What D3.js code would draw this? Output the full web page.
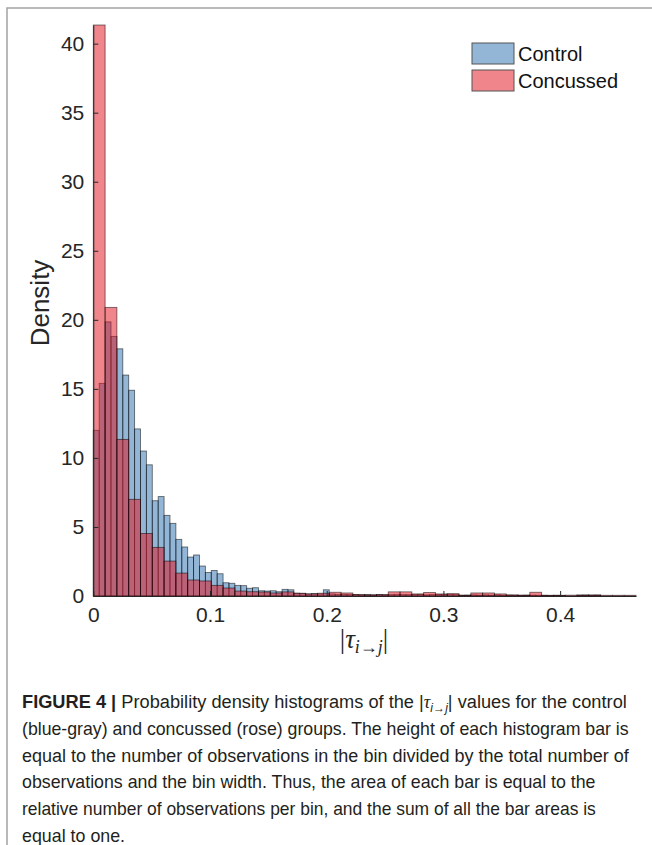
<!DOCTYPE html>
<html>
<head>
<meta charset="utf-8">
<script src="https://cdn.jsdelivr.net/npm/d3@7/dist/d3.min.js"></script>
<style>
body{margin:0;background:#fff;}
svg{display:block;}
</style>
</head>
<body>
<svg></svg>
<script>
// histogram densities (control bins are half the concussed bin width)
var groups = ['Control', 'Concussed'];
var controlDensity = [
    12.0, 15.4, 19.85, 18.8, 17.9, 16.0, 14.9, 12.1, 10.5, 9.5,
    6.9, 7.2, 5.84, 5.26, 4.1, 3.55, 2.82, 2.97, 2.17, 1.7,
    1.85, 1.61, 0.96, 0.92, 0.77, 0.75, 0.56, 0.6, 0.38, 0.36,
    0.38, 0.31, 0.48, 0.45, 0.2, 0.18, 0.15, 0.18, 0.15, 0.45,
    0.15, 0.12, 0.12, 0.1, 0.1, 0.08, 0.1, 0.08, 0.1, 0.08,
    0.1, 0.12, 0.1, 0.1, 0.1, 0.12, 0.08, 0.1, 0.1, 0.1,
    0.12, 0.1, 0.05, 0.06, 0.08, 0.06, 0.08, 0.06, 0.08, 0.05,
    0.06, 0.05, 0.05, 0.06, 0.06, 0.05, 0.05, 0.04, 0.05, 0.04,
    0, 0, 0.06, 0.07, 0.06, 0.07, 0, 0, 0, 0,
    0, 0
];
var concussedDensity = [
    41.35, 20.9, 11.34, 7.0, 4.53, 3.52, 2.53, 1.66, 1.16, 1.09,
    0.77, 0.58, 0.36, 0.31, 0.29, 0.22, 0.3, 0.2, 0.15, 0.2,
    0.27, 0.22, 0.1, 0.08, 0.1, 0.3, 0.3, 0.15, 0.25, 0.15,
    0.17, 0.06, 0.22, 0.22, 0.15, 0.08, 0.06, 0.27, 0.05, 0.05,
    0.06, 0.07, 0.07, 0.05, 0.05, 0.05
];
var xMax = 0.465;
var yMax = 41.35;
var xTicks = [0, 0.1, 0.2, 0.3, 0.4];
var yTicks = [0, 5, 10, 15, 20, 25, 30, 35, 40];
var captionLines = [
    [['FIGURE 4 |', 'b'], [' Probability density histograms of the |'], ['τ', 'i'], ['i→j', 'sub'], ['| values for the control']],
    [['(blue-gray) and concussed (rose) groups. The height of each histogram bar is']],
    [['equal to the number of observations in the bin divided by the total number of']],
    [['observations and the bin width. Thus, the area of each bar is equal to the']],
    [['relative number of observations per bin, and the sum of all the bar areas is']],
    [['equal to one.']]
];
var captionEnds = [627, 629, 629, 596, 596, null];

var width = 652, height = 845;
var colors = {Control: '#276daf', Concussed: '#e10d19'};
var axisColor = '#262626';
var font = '"Liberation Sans", Arial, Helvetica, sans-serif';

var svg = d3.select('svg').attr('width', width).attr('height', height);

// figure frame (top + left border)
svg.append('path')
    .attr('d', 'M7,845V8H652')
    .attr('fill', 'none')
    .attr('stroke', '#a3a3a3')
    .attr('stroke-width', 1.5);

var x = d3.scaleLinear().domain([0, xMax]).range([93.3, 636]);
var y = d3.scaleLinear().domain([0, yMax]).range([596, 25]);

function drawHist(name, values){
    var w = xMax / values.length;
    svg.append('g')
        .selectAll('rect')
        .data(values.map(function(v, i){ return {x0: i*w, x1: (i+1)*w, v: v}; })
            .filter(function(d){ return d.v > 0; }))
        .join('rect')
        .attr('x', function(d){ return x(d.x0); })
        .attr('width', function(d){ return x(d.x1) - x(d.x0); })
        .attr('y', function(d){ return y(d.v); })
        .attr('height', function(d){ return y(0) - y(d.v); })
        .attr('fill', colors[name])
        .attr('fill-opacity', 0.5)
        .attr('stroke', '#000')
        .attr('stroke-opacity', 0.55)
        .attr('stroke-width', 0.9);
}
drawHist('Control', controlDensity);
drawHist('Concussed', concussedDensity);

var yAxis = svg.append('g')
    .attr('transform', 'translate(' + x(0) + ',0)')
    .call(d3.axisLeft(y).tickValues(yTicks).tickSizeInner(-5).tickSizeOuter(0).tickPadding(9));
var xAxis = svg.append('g')
    .attr('transform', 'translate(0,' + y(0) + ')')
    .call(d3.axisBottom(x).tickValues(xTicks).tickFormat(d3.format('')).tickSizeInner(-5).tickSizeOuter(0).tickPadding(11));
[yAxis, xAxis].forEach(function(a){
    a.selectAll('path, line').attr('stroke', axisColor);
    a.selectAll('text').attr('fill', axisColor).style('font-family', font).style('font-size', '21px');
});

svg.append('text')
    .attr('transform', 'translate(49,303) rotate(-90)')
    .attr('text-anchor', 'middle')
    .style('font-family', font)
    .style('font-size', '26px')
    .attr('fill', axisColor)
    .text('Density');

// x label |tau_{i->j}|
var xl = svg.append('text')
    .attr('x', 364).attr('y', 648)
    .attr('text-anchor', 'middle')
    .style('font-family', '"Liberation Serif", "DejaVu Serif", serif')
    .style('font-size', '27px')
    .attr('fill', axisColor);
xl.append('tspan').text('|');
xl.append('tspan').style('font-style', 'italic').text('τ');
xl.append('tspan').style('font-style', 'italic').style('font-size', '18px').attr('dy', 5).text('i→j');
xl.append('tspan').attr('dy', -5).text('|');

// legend
var legend = svg.append('g').attr('transform', 'translate(472,43)');
groups.forEach(function(g, i){
    var row = legend.append('g').attr('transform', 'translate(0,' + (i * 27) + ')');
    row.append('rect')
        .attr('width', 42).attr('height', 21)
        .attr('fill', colors[g]).attr('fill-opacity', 0.5)
        .attr('stroke', '#555').attr('stroke-width', 1);
    row.append('text')
        .attr('x', 46).attr('y', 11).attr('dy', '0.35em')
        .style('font-family', font).style('font-size', '20px')
        .attr('fill', '#111')
        .text(g);
});

// caption
var capFont = '"Liberation Sans Narrow", "Liberation Sans", Arial, sans-serif';
var scales = [];
captionLines.forEach(function(parts, i){
    var t = svg.append('text')
        .style('font-family', capFont)
        .style('font-size', '18px')
        .attr('fill', '#231f20');
    parts.forEach(function(p){
        var s = t.append('tspan').text(p[0]);
        if(p[1] == 'b') s.style('font-weight', 'bold');
        if(p[1] == 'i') s.style('font-style', 'italic').style('font-family', '"Liberation Serif", serif');
        if(p[1] == 'sub') s.style('font-style', 'italic').style('font-size', '12px').attr('dy', 4);
    });
    // the word after a subscript goes back to the baseline
    t.selectAll('tspan').each(function(d, j, nodes){
        if(j > 0 && nodes[j-1].getAttribute('dy') == '4') d3.select(this).attr('dy', -4);
    });
    var sx;
    if(captionEnds[i]){
        sx = (captionEnds[i] - 22) / t.node().getComputedTextLength();
        scales.push(sx);
    }else{
        sx = d3.mean(scales);
    }
    t.attr('transform', 'translate(22,' + (708 + i * 26.8) + ') scale(' + sx + ',1)');
});
</script>
</body>
</html>
